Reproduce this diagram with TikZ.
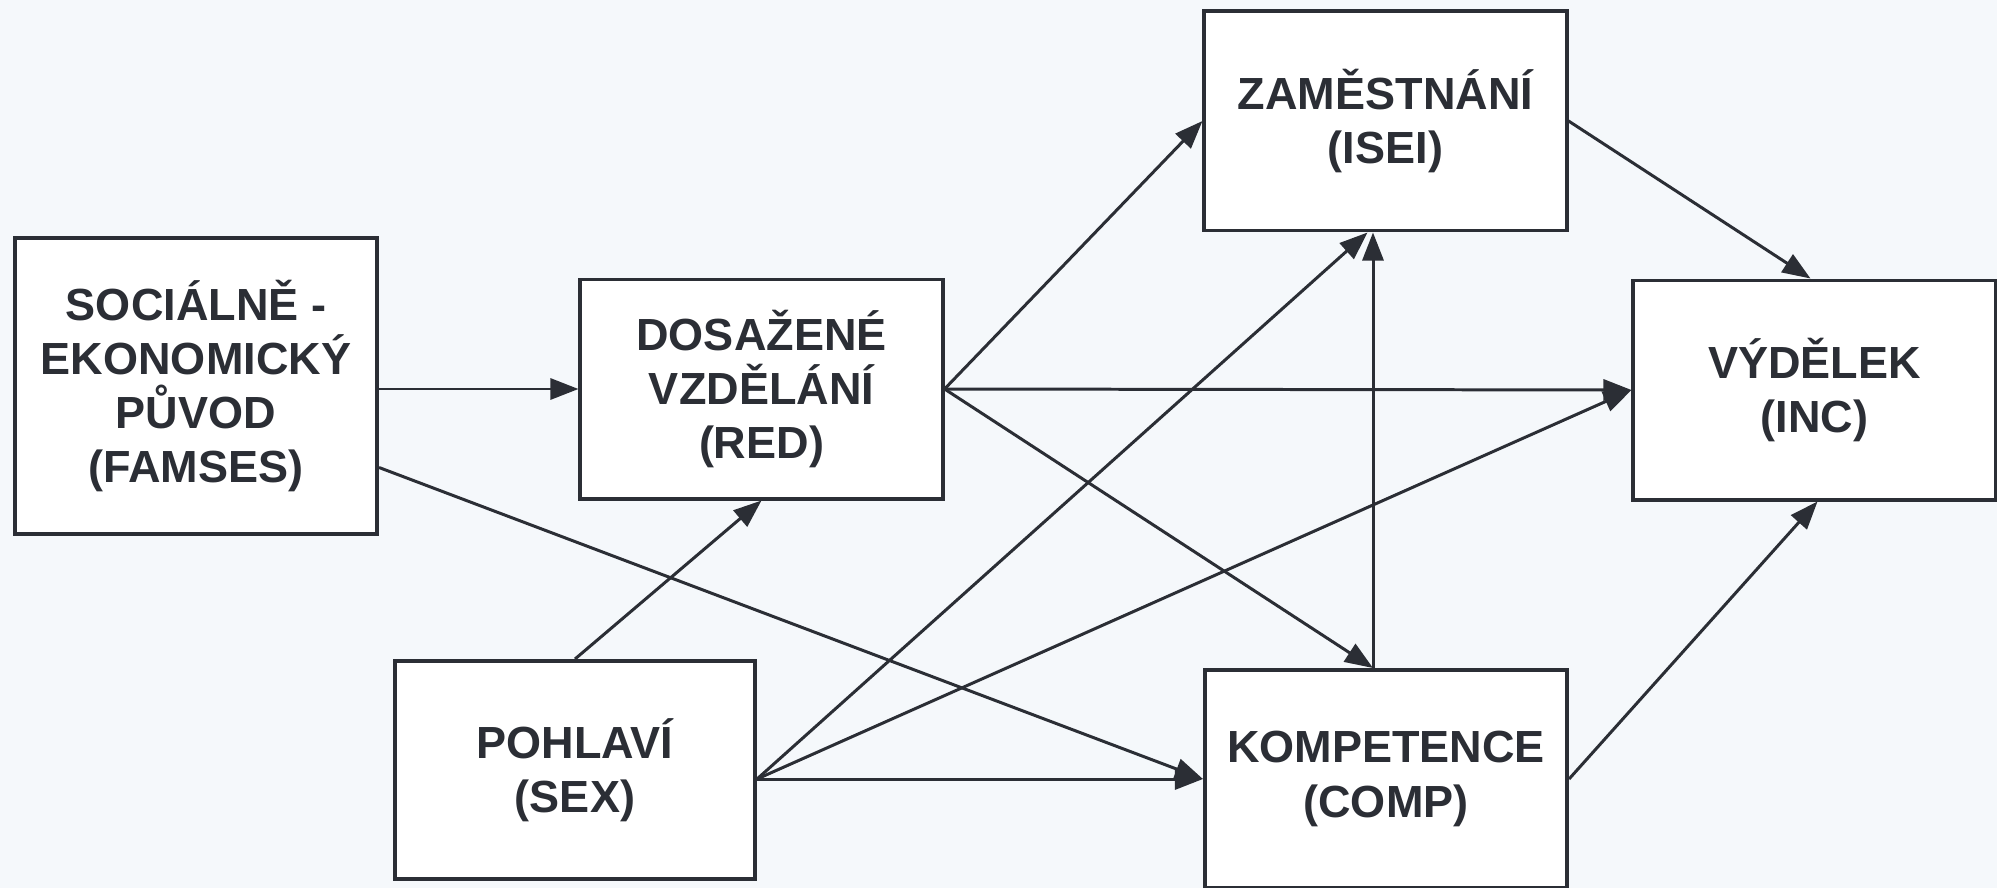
\documentclass[tikz,border=0pt]{standalone}
\usepackage{fontspec}
\setmainfont{Liberation Sans}
\usetikzlibrary{arrows.meta,backgrounds,positioning}
\definecolor{bgc}{HTML}{F5F8FB}
\definecolor{ink}{HTML}{2B2E35}

\begin{document}
\begin{tikzpicture}[x=0.01cm,y=-0.01cm,
    var/.style={draw=ink,fill=white,line width=1.1pt,inner sep=0pt,align=center,
      text=ink,font=\bfseries\fontsize{12.8}{15.4}\selectfont,
      minimum width=3.62cm,minimum height=2.19cm},
    eff/.style={draw=ink,line width=0.85pt,-{Triangle[length=0.28cm,width=0.21cm]}}]
  \fill[bgc] (0,0) rectangle (1997,888);
  \useasboundingbox (0,0) rectangle (1997,888);
  % variables
  \node[var,minimum height=2.95cm] (famses) at (196,386) {SOCIÁLNĚ -\\EKONOMICKÝ\\PŮVOD\\(FAMSES)};
  \node[var] (red) at (761.5,389) {DOSAŽENÉ\\VZDĚLÁNÍ\\(RED)};
  \node[var] (isei) at (1385.5,121) {ZAMĚSTNÁNÍ\\(ISEI)};
  \node[var] (inc) at (1814.5,390) {VÝDĚLEK\\(INC)};
  \node[var,minimum width=3.6cm,minimum height=2.18cm] (sex) at (575,770) {POHLAVÍ\\(SEX)};
  \node[var,minimum height=2.18cm] (comp) at (1386,779) {KOMPETENCE\\(COMP)};
  \coordinate (sx) at (sex.east |- comp.west);
  \coordinate (cn) at ([xshift=-0.13cm]comp.north);
  \coordinate (is) at (cn |- isei.south);
  \coordinate (is2) at ([xshift=-0.18cm]isei.south);
  % effects
  \draw[eff] (famses.east |- red.west) -- (red.west);
  \draw[eff] (famses.-24.5) -- (comp.west);
  \draw[eff] (red.east) -- (isei.west);
  \draw[eff] (red.east) -- (inc.west);
  \draw[eff] (red.east) -- (cn);
  \draw[eff] (sex.north) -- (red.south);
  \draw[eff] (sx) -- (is2);
  \draw[eff] (sx) -- (inc.west);
  \draw[eff] (sx) -- (comp.west);
  \draw[eff] (cn) -- (is);
  \draw[eff] (isei.east) -- ([xshift=-0.04cm]inc.north);
  \draw[eff] (comp.east) -- ([xshift=0.03cm]inc.south);
\end{tikzpicture}
\end{document}
